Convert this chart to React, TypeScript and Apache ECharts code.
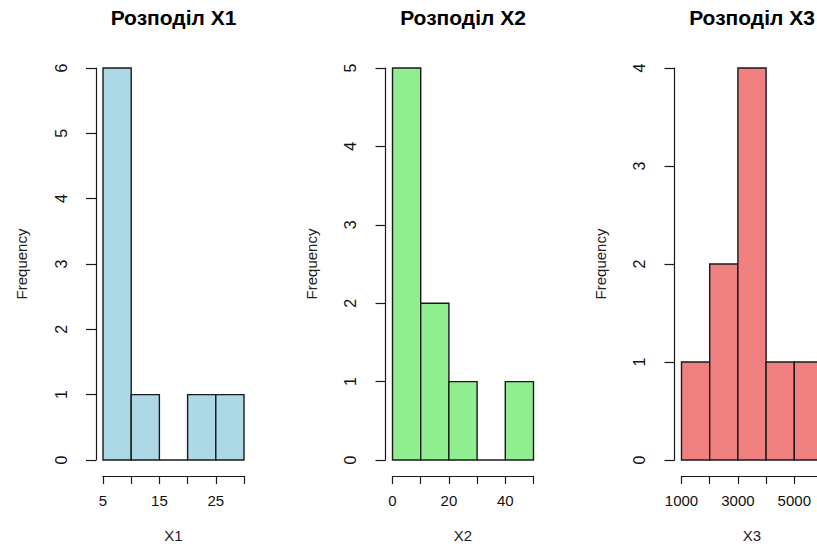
import React, { useEffect, useRef } from "react";
import * as echarts from "echarts";

// ---- data ----
const X1_EDGES = [5, 10, 15, 20, 25, 30];
const X1_COUNTS = [6, 1, 0, 1, 1];
const X1_TICK_LABELS = ["5", "15", "25"];

const X2_EDGES = [0, 10, 20, 30, 40, 50];
const X2_COUNTS = [5, 2, 1, 0, 1];
const X2_TICK_LABELS = ["0", "20", "40"];

const X3_EDGES = [1000, 2000, 3000, 4000, 5000, 6000];
const X3_COUNTS = [1, 2, 4, 1, 1];
const X3_TICK_LABELS = ["1000", "3000", "5000"];

const TITLES = ["Розподіл X1", "Розподіл X2", "Розподіл X3"];
const X_NAMES = ["X1", "X2", "X3"];
const Y_NAME = "Frequency";
const FILLS = ["#ADD8E6", "#90EE90", "#F08080"];

const PANELS = [
  { edges: X1_EDGES, counts: X1_COUNTS, labels: X1_TICK_LABELS, step: 5, ymax: 6 },
  { edges: X2_EDGES, counts: X2_COUNTS, labels: X2_TICK_LABELS, step: 10, ymax: 5 },
  { edges: X3_EDGES, counts: X3_COUNTS, labels: X3_TICK_LABELS, step: 1000, ymax: 4 },
];

// ---- layout ----
const GRID_LEFTS = [103, 392.5, 681.5];
const GRID_WIDTH = 141;
const GRID_TOP = 68;
const GRID_HEIGHT = 393;
const FONT = "'Liberation Sans', Arial, Helvetica, sans-serif";
const INK = "#1a1a1a";

export default function App() {
  const ref = useRef<HTMLDivElement>(null);

  useEffect(() => {
    if (!ref.current) return;
    const chart = echarts.init(ref.current, null, { renderer: "svg" });

    const grids: any[] = [];
    const xAxes: any[] = [];
    const yAxes: any[] = [];
    const series: any[] = [];
    const graphics: any[] = [];

    PANELS.forEach((p, i) => {
      grids.push({
        left: GRID_LEFTS[i],
        top: GRID_TOP,
        width: GRID_WIDTH,
        height: GRID_HEIGHT,
        containLabel: false,
      });
      xAxes.push({
        type: "value",
        gridIndex: i,
        min: p.edges[0],
        max: p.edges[p.edges.length - 1],
        interval: p.step,
        offset: 16,
        position: "bottom",
        name: X_NAMES[i],
        nameLocation: "middle",
        nameGap: 52,
        nameTextStyle: { fontFamily: FONT, fontSize: 15, color: "#222", verticalAlign: "top" },
        axisLine: { show: true, onZero: false, lineStyle: { color: INK, width: 1.2 } },
        axisTick: { show: true, length: 8, lineStyle: { color: INK, width: 1.2 } },
        axisLabel: {
          show: true,
          margin: 17,
          fontFamily: FONT,
          fontSize: 15,
          color: "#111",
          showMinLabel: true,
          showMaxLabel: true,
          formatter: (v: number) => (p.labels.includes(String(v)) ? String(v) : ""),
        },
        splitLine: { show: false },
      });
      yAxes.push({
        type: "value",
        gridIndex: i,
        min: 0,
        max: p.ymax,
        interval: 1,
        offset: 7,
        position: "left",
        name: Y_NAME,
        nameLocation: "middle",
        nameRotate: 90,
        nameGap: 67,
        nameTextStyle: { fontFamily: FONT, fontSize: 15, color: "#222" },
        axisLine: { show: true, onZero: false, lineStyle: { color: INK, width: 1.2 } },
        axisTick: { show: true, length: 10, lineStyle: { color: INK, width: 1.2 } },
        axisLabel: {
          show: true,
          rotate: 90,
          margin: 27,
          fontFamily: FONT,
          fontSize: 16,
          color: "#111",
        },
        splitLine: { show: false },
      });
      const data = p.counts.map((c, k) => [p.edges[k], p.edges[k + 1], c]);
      series.push({
        type: "custom",
        xAxisIndex: i,
        yAxisIndex: i,
        encode: { x: [0, 1], y: 2 },
        data,
        clip: false,
        renderItem: (params: any, api: any) => {
          const x0 = api.value(0);
          const x1 = api.value(1);
          const c = api.value(2);
          const pTop = api.coord([x0, c]);
          const pBot = api.coord([x1, 0]);
          return {
            type: "rect",
            shape: {
              x: pTop[0],
              y: pTop[1],
              width: pBot[0] - pTop[0],
              height: pBot[1] - pTop[1],
            },
            style: { fill: FILLS[i], stroke: INK, lineWidth: 1.4 },
          };
        },
      });
      graphics.push({
        type: "text",
        x: GRID_LEFTS[i] + GRID_WIDTH / 2,
        y: 17,
        style: {
          text: TITLES[i],
          fill: "#000",
          font: `bold 21px ${FONT}`,
          textAlign: "center",
          textVerticalAlign: "middle",
        },
      });
    });

    chart.setOption({
      animation: false,
      backgroundColor: "#ffffff",
      grid: grids,
      xAxis: xAxes,
      yAxis: yAxes,
      series,
      graphic: graphics,
    });

    return () => chart.dispose();
  }, []);

  return (
    <div
      style={{
        position: "fixed",
        left: 0,
        top: 0,
        width: 817,
        height: 548,
        overflow: "hidden",
        background: "#fff",
      }}
    >
      <div ref={ref} style={{ width: 870, height: 548 }} />
    </div>
  );
}
